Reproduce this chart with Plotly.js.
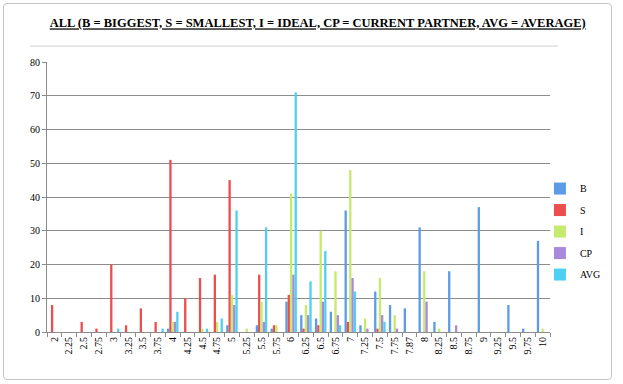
<!DOCTYPE html>
<html>
<head>
<meta charset="utf-8">
<script src="https://cdn.plot.ly/plotly-3.0.1.min.js"></script>
<style>
html,body{margin:0;padding:0;background:#fff;}
#frame{position:absolute;left:3px;top:3px;width:607px;height:375px;border:1px solid #c4c4c4;border-radius:4px;}
#chart{position:absolute;left:0;top:0;width:623px;height:384px;}
</style>
</head>
<body>
<div id="frame"></div>
<div id="chart"></div>
<script>
const categories = ['2','2.25','2.5','2.75','3','3.25','3.5','3.75','4','4.25','4.5','4.75','5','5.25','5.5','5.75','6','6.25','6.5','6.75','7','7.25','7.5','7.75','7.87','8','8.25','8.5','8.75','9','9.25','9.5','9.75','10'];
const seriesB   = [0,0,0,0,0,0,0,0,1,0,0,0,2,0,2,1,9,5,4,6,36,2,12,8,7,31,3,18,0,37,0,8,1,27];
const seriesS   = [8,0,3,1,20,2,7,3,51,10,16,17,45,0,17,2,11,1,2,0,3,0,1,0,0,0,0,0,0,0,0,0,0,0];
const seriesI   = [0,0,0,0,0,0,0,0,3,0,1,3,11,1,9,2,41,8,30,18,48,4,16,5,0,18,1,0,0,0,0,0,0,1];
const seriesCP  = [0,0,0,0,0,0,0,0,3,0,0,0,8,0,3,0,17,5,9,5,16,1,5,1,0,9,0,2,0,0,0,0,0,0];
const seriesAVG = [0,0,0,0,1,0,0,1,6,0,1,4,36,0,31,0,71,15,24,2,12,0,3,0,0,0,0,0,0,0,0,0,0,0];
const seriesNames = ['B','S','I','CP','AVG'];
const yTicks = [0,10,20,30,40,50,60,70,80];

const colors = ['#5c9ce6','#ec4e4e','#c6ea6e','#a889dc','#4ed0f2'];
const data = [seriesB, seriesS, seriesI, seriesCP, seriesAVG].map((vals, i) => ({
  type: 'bar',
  name: seriesNames[i],
  legendgroup: seriesNames[i],
  x: categories,
  y: vals,
  marker: {color: colors[i], line: {width: 0}},
  hoverinfo: 'x+y+name'
}));

const serif = 'Liberation Serif, DejaVu Serif, serif';
const layout = {
  width: 623, height: 384,
  paper_bgcolor: 'rgba(0,0,0,0)', plot_bgcolor: 'rgba(0,0,0,0)',
  margin: {l: 47, r: 73, t: 62, b: 52, autoexpand: false},
  barmode: 'group', bargap: 0.22, bargroupgap: 0,
  title: {
    text: '<b>ALL (B = BIGGEST, S = SMALLEST, I = IDEAL, CP = CURRENT PARTNER, AVG = AVERAGE)</b>',
    font: {family: serif, size: 12.5, color: '#000', lineposition: 'under'},
    x: 0.51, xanchor: 'center', y: 0.94, yanchor: 'middle'
  },
  xaxis: {
    type: 'category',
    tickangle: -90,
    tickfont: {family: serif, size: 10, color: '#000'},
    showline: true, linecolor: '#8c8c8c', linewidth: 1,
    ticks: 'outside', tickson: 'boundaries', ticklen: 4, tickcolor: '#8c8c8c',
    showgrid: false, zeroline: false, fixedrange: true
  },
  yaxis: {
    range: [0, 80],
    tickvals: yTicks,
    tickfont: {family: serif, size: 10, color: '#000'},
    showline: true, linecolor: '#8c8c8c', linewidth: 1,
    ticks: 'outside', ticklen: 4, tickcolor: '#8c8c8c',
    showgrid: true, gridcolor: '#8c8c8c', gridwidth: 1,
    zeroline: false, fixedrange: true
  },
  shapes: [{
    type: 'line', xref: 'paper', yref: 'paper',
    x0: -0.034, x1: 1.016, y0: 1.059, y1: 1.059,
    line: {color: '#cfcfcf', width: 1}
  }],
  legend: {
    x: 0.98, xanchor: 'left', y: 0.372, yanchor: 'middle',
    font: {family: serif, size: 10, color: '#000'},
    itemwidth: 30, tracegroupgap: 2.5, bgcolor: 'rgba(0,0,0,0)'
  },
  showlegend: true
};

Plotly.newPlot('chart', data, layout, {displayModeBar: false, staticPlot: true});
</script>
</body>
</html>
